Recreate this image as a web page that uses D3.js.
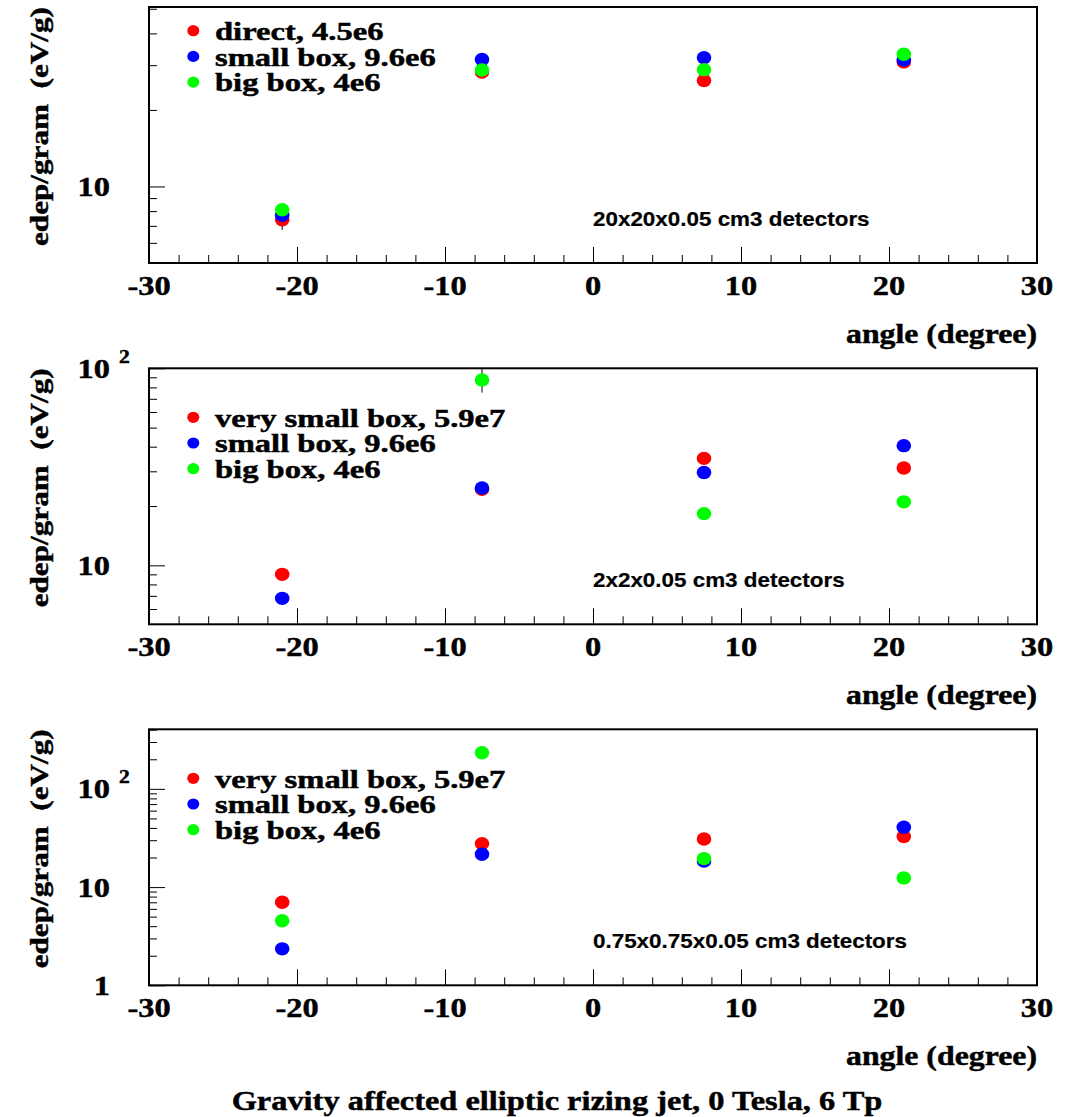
<!DOCTYPE html>
<html><head><meta charset="utf-8">
<script src="https://cdn.jsdelivr.net/npm/d3@7"></script>
<style>body{margin:0;background:#fff} text{white-space:pre}</style>
</head><body>
<svg id="c" width="1066" height="1117"></svg>
<script>
// ---------- data ----------
const angles = [-21, -7.5, 7.5, 21];
const xMajorTicks = [-30, -20, -10, 0, 10, 20, 30];
const seriesColors = ["#ff0000", "#0000ff", "#00ff00"];

const legendTop = ["direct, 4.5e6", "small box, 9.6e6", "big box, 4e6"];
const legendOther = ["very small box, 5.9e7", "small box, 9.6e6", "big box, 4e6"];

// panel 1: 20x20x0.05 cm3
const p1Direct = [7.4, 28.2, 26.1, 30.9];
const p1Small  = [7.7, 31.6, 32.1, 31.4];
const p1Big    = [8.1, 28.7, 28.8, 33.1];
const p1DirectErr = [0.65, 0, 0, 0];

// panel 2: 2x2x0.05 cm3
const p2VerySmall = [9.0, 24.3, 34.9, 31.2];
const p2Small     = [6.8, 24.7, 29.6, 40.5];
const p2Big       = [null, 87.3, 18.3, 21.0];
const p2BigErr    = [0, 12, 0, 0];

// panel 3: 0.75x0.75x0.05 cm3
const p3VerySmall = [7.0, 27.7, 30.9, 32.7];
const p3Small     = [2.35, 21.6, 18.4, 40.6];
const p3Big       = [4.54, 233, 19.5, 12.4];

const notes = ["20x20x0.05 cm3 detectors", "2x2x0.05 cm3 detectors", "0.75x0.75x0.05 cm3 detectors"];
const yDomains = [[5, 50.8], [5.02, 100], [1, 404]];
const yLabelTicks = [[10], [10, 100], [1, 10, 100]];
const xTitle = "angle (degree)";
const yTitle = "edep/gram  (eV/g)";
const mainTitle = "Gravity affected elliptic rizing jet, 0 Tesla, 6 Tp";

// ---------- layout ----------
const svg = d3.select("#c");
const L = 149, R = 1037, H = 256;
const tops = [7, 368.3, 729.3];
const legendOffsets = [23.7, 49, 49];
const SX = 1.2;
const SERIF = "'Liberation Serif','Times New Roman',serif";
const SANS = "'Liberation Sans',Arial,sans-serif";

function txt(parent, x, y, s, o) {
  const t = parent.append("text")
    .attr("transform", `translate(${x},${y})` + (o.rot ? ` rotate(${o.rot})` : "") + ` scale(${o.sx || SX},1)`)
    .attr("font-family", o.family || SERIF)
    .attr("font-weight", "bold")
    .attr("font-size", o.size)
    .attr("text-anchor", o.anchor || "start")
    .attr("fill", "#000")
    .attr("stroke", "#000")
    .attr("stroke-width", o.family ? 0.2 : 0.45)
    .text(s);
  if (o.dy) t.attr("dy", o.dy);
  return t;
}

const panels = [
  {series: [p1Direct, p1Small, p1Big], errs: [p1DirectErr, null, null], legend: legendTop},
  {series: [p2VerySmall, p2Small, p2Big], errs: [null, null, p2BigErr], legend: legendOther},
  {series: [p3VerySmall, p3Small, p3Big], errs: [null, null, null], legend: legendOther}
];

panels.forEach((p, i) => {
  const top = tops[i], bot = top + H;
  const g = svg.append("g");
  const x = d3.scaleLinear().domain([-30, 30]).range([L, R]);
  const yDom = yDomains[i];
  const y = d3.scaleLog().domain(yDom).range([bot, top]);

  // y ticks
  const decades = [], minors = [];
  for (let d = 1; d <= 1000; d *= 10) {
    for (let m = 1; m <= 9; m++) {
      const v = d * m;
      if (v >= yDom[0] * 0.999 && v <= yDom[1] * 1.001) (m === 1 ? decades : minors).push(v);
    }
  }
  const yMinor = g.append("g").attr("transform", `translate(${L},0)`)
    .call(d3.axisLeft(y).tickValues(minors).tickSize(-8).tickFormat(""));
  const yMajor = g.append("g").attr("transform", `translate(${L},0)`)
    .call(d3.axisLeft(y).tickValues(decades).tickSize(-16).tickFormat(""));
  // x ticks
  const xMinor = g.append("g").attr("transform", `translate(0,${bot})`)
    .call(d3.axisBottom(x).tickValues(d3.range(-28, 30, 2).filter(v => v % 10 !== 0)).tickSize(-8).tickFormat(""));
  const xMajor = g.append("g").attr("transform", `translate(0,${bot})`)
    .call(d3.axisBottom(x).tickValues(xMajorTicks).tickSize(-16).tickFormat(""));
  [yMinor, yMajor, xMinor, xMajor].forEach(a => {
    a.select(".domain").remove();
    a.selectAll("text").remove();
    a.selectAll("line").attr("stroke", "#000").attr("stroke-width", 1);
  });

  // frame
  g.append("rect").attr("x", L).attr("y", top).attr("width", R - L).attr("height", H)
    .attr("fill", "none").attr("stroke", "#000").attr("stroke-width", 2);

  // x tick labels
  xMajorTicks.forEach(v => txt(g, x(v), bot + 32, String(v), {size: 27, anchor: "middle"}));
  // y tick labels
  yLabelTicks[i].forEach(v => {
    if (v === 100) {
      txt(g, 110, y(v), "10", {size: 27, anchor: "end", dy: "0.35em"});
      txt(g, 119, y(v) - 5.5, "2", {size: 18, anchor: "start"});
    } else {
      txt(g, 110, y(v), String(v), {size: 27, anchor: "end", dy: "0.35em"});
    }
  });

  // axis titles
  txt(g, R, bot + 80, xTitle, {size: 26.5, anchor: "end"});
  txt(g, 47.5, top, yTitle, {size: 26, anchor: "end", rot: -90});

  // annotation
  txt(g, x(0), bot - 37, notes[i], {size: 19.5, family: SANS, anchor: "start", sx: 1.15});

  // error bars
  p.series.forEach((vals, s) => {
    const errs = p.errs[s];
    vals.forEach((v, k) => {
      if (v == null) return;
      if (errs && errs[k] > 0) {
        g.append("line").attr("x1", x(angles[k])).attr("x2", x(angles[k]))
          .attr("y1", y(Math.min(v + errs[k], yDom[1]))).attr("y2", y(Math.max(v - errs[k], yDom[0])))
          .attr("stroke", "#000").attr("stroke-width", 1);
      }
    });
  });
  // markers
  p.series.forEach((vals, s) => {
    vals.forEach((v, k) => {
      if (v == null) return;
      g.append("ellipse").attr("cx", x(angles[k])).attr("cy", y(v))
        .attr("rx", 7.3).attr("ry", 6.7).attr("fill", seriesColors[s]);
    });
  });

  // legend
  p.legend.forEach((lab, s) => {
    const cy = top + legendOffsets[i] + s * 25.7;
    g.append("ellipse").attr("cx", 193.3).attr("cy", cy).attr("rx", 6).attr("ry", 5.6).attr("fill", seriesColors[s]);
    txt(g, 215, cy + 9.3, lab, {size: 24.5, sx: 1.33});
  });
});

txt(svg, 557, 1110, mainTitle, {size: 27, anchor: "middle"});
</script>
</body></html>
